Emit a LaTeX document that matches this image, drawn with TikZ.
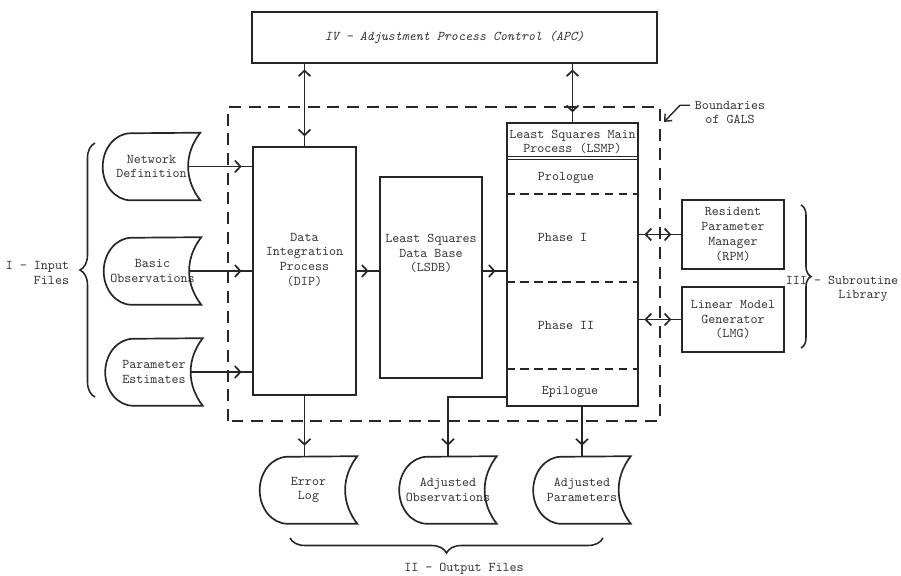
\documentclass[tikz,border=0pt]{standalone}
\usepackage{fontspec}
\usepackage{tikz}
\usetikzlibrary{arrows.meta, decorations.markings, decorations.pathreplacing, calc}
\def\tyfont{\ttfamily\fontsize{9.5}{10.5}\selectfont}
\def\barb{Straight Barb[length=4pt,width=8.5pt]}

\tikzset{
  every node/.style={font=\tyfont, text=black!80},
  block/.style={draw=black!85, line width=1.2pt, inner sep=0pt},
  datafile/.style={inner sep=0pt, minimum width=2.425cm, minimum height=1.675cm, align=center},
  outline/.style={draw=black!85, line width=1.2pt},
  flow/.style={draw=black!85, line width=1.2pt, postaction={decorate},
    decoration={markings, mark=at position -7.5pt with {\arrow{\barb}}}},
  twoway/.style={draw=black!85, line width=1.2pt, postaction={decorate},
    decoration={markings, mark=at position 4pt with {\arrowreversed{\barb}},
      mark=at position -7pt with {\arrow{\barb}}}},
  gals/.style={draw=black!85, line width=1.1pt, dash pattern=on 8.5pt off 5.5pt},
  split/.style={draw=black!85, line width=1pt, dash pattern=on 6pt off 4pt},
  grp/.style={draw=black!85, line width=1.1pt, decorate, decoration={brace, amplitude=#1}}
}

\begin{document}
\begin{tikzpicture}[x=0.025cm, y=0.025cm]
  \useasboundingbox (0,0) rectangle (901,576);

  % control box and boundaries of GALS
  \node[block, minimum width=10.125cm, minimum height=1.275cm] (apc) at (454.5,538.5)
    {\itshape IV - Adjustment Process Control (APC)};
  \draw[gals] (228,155) rectangle (660,469);

  % processes
  \node[block, minimum width=2.575cm, minimum height=6.2cm,
    label={[yshift=0.28cm, align=center]center:{Data\\Integration\\Process\\(DIP)}}] (dip) at (304.5,305) {};
  \node[block, minimum width=2.55cm, minimum height=5.025cm,
    label={[yshift=0.6cm, align=center]center:{Least Squares\\Data Base\\(LSDB)}}] (lsdb) at (431,298.5) {};
  \node[block, minimum width=3.275cm, minimum height=7.075cm] (lsmp) at (572.5,311.5) {};
  \node[block, minimum width=2.55cm, minimum height=1.725cm, align=center] (rpm) at (733,341.5)
    {Resident\\Parameter\\Manager\\(RPM)};
  \node[block, minimum width=2.55cm, minimum height=1.625cm, align=center] (lmg) at (733,256.5)
    {Linear Model\\Generator\\(LMG)};

  % sections of the main process
  \node[align=center] (head) at (572.5,434) {Least Squares Main\\Process (LSMP)};
  \draw[line width=1.2pt, black!85] (lsmp.west |- 0,419.5) to (lsmp.east |- 0,419.5);
  \draw[line width=1.2pt, black!85] (lsmp.west |- 0,416.5) to (lsmp.east |- 0,416.5);
  \node[anchor=west] (pro) at (533,398) {Prologue};
  \draw[split] (lsmp.west |- 0,382) to (lsmp.east |- 0,382);
  \node[anchor=west] (ph1) at (533,339) {Phase I};
  \draw[split] (lsmp.west |- 0,294) to (lsmp.east |- 0,294);
  \node[anchor=west] (ph2) at (533,251) {Phase II};
  \draw[split] (lsmp.west |- 0,207) to (lsmp.east |- 0,207);
  \node (epi) at (570,184) {Epilogue};

  % input and output files
  \node[datafile] (netdef) at (151.5,409.5) {Network\\Definition};
  \node[datafile] (basobs) at (152.5,305) {Basic\\Observations};
  \node[datafile] (parest) at (154,204) {Parameter\\Estimates};
  \node[datafile] (errlog) at (308.5,86) {Error\\Log};
  \node[datafile] (adjobs) at (448,86) {Adjusted\\Observations};
  \node[datafile] (adjpar) at (582,86) {Adjusted\\Parameters};
  \foreach \f in {netdef,basobs,parest,errlog,adjobs,adjpar}
    \draw[outline] (\f.north east) to[bend right=38] (\f.south east)
      -- ([xshift=0.7cm]\f.south west)
      arc[start angle=270, end angle=90, x radius=0.7cm, y radius=0.8375cm] -- cycle;

  % data flow
  \foreach \f in {netdef,basobs,parest}
    \draw[flow] ([xshift=-0.3cm]\f.east) to (\f.east -| dip.west);
  \draw[flow] (dip.east) to (dip.east -| lsdb.west);
  \draw[flow] (dip.east -| lsdb.east) to (dip.east -| lsmp.west);
  \draw[twoway] (dip.north |- apc.south) to (dip.north);
  \draw[twoway] (lsmp.north |- apc.south) to (lsmp.north);
  \draw[twoway] (rpm.west -| lsmp.east) to (rpm.west);
  \draw[twoway] (lmg.west -| lsmp.east) to (lmg.west);
  \draw[flow] (dip.south) to (dip.south |- errlog.north);
  \draw[flow] ([yshift=-0.12cm]lsmp.west |- epi) -| (adjobs.north);
  \draw[flow] (adjpar.north |- lsmp.south) to (adjpar.north);

  % groups
  \draw[grp=0.375cm] (95,179) to (95,433);
  \node[anchor=east, align=right] (infiles) at (74,303) {I - Input\\Files};
  \draw[grp=0.375cm] (603,38) to (290,38);
  \node (outfiles) at (464,7) {II - Output Files};
  \draw[grp=0.25cm] (801,371) to (801,228);
  \node[anchor=west] (sublib) at (781,296) {III - Subroutine};
  \node (sublib2) at (863,280) {Library};

  % boundary label
  \node[anchor=west, align=center] (bnd) at (690,463.5) {Boundaries\\of GALS};
  \coordinate (galsedge) at (664,454);
  \draw[draw=black!85, line width=1pt, -{Straight Barb[length=4pt,width=7pt]}]
    ([yshift=0.18cm]bnd.west) -- ++(-10,0) -- (galsedge);
\end{tikzpicture}
\end{document}
